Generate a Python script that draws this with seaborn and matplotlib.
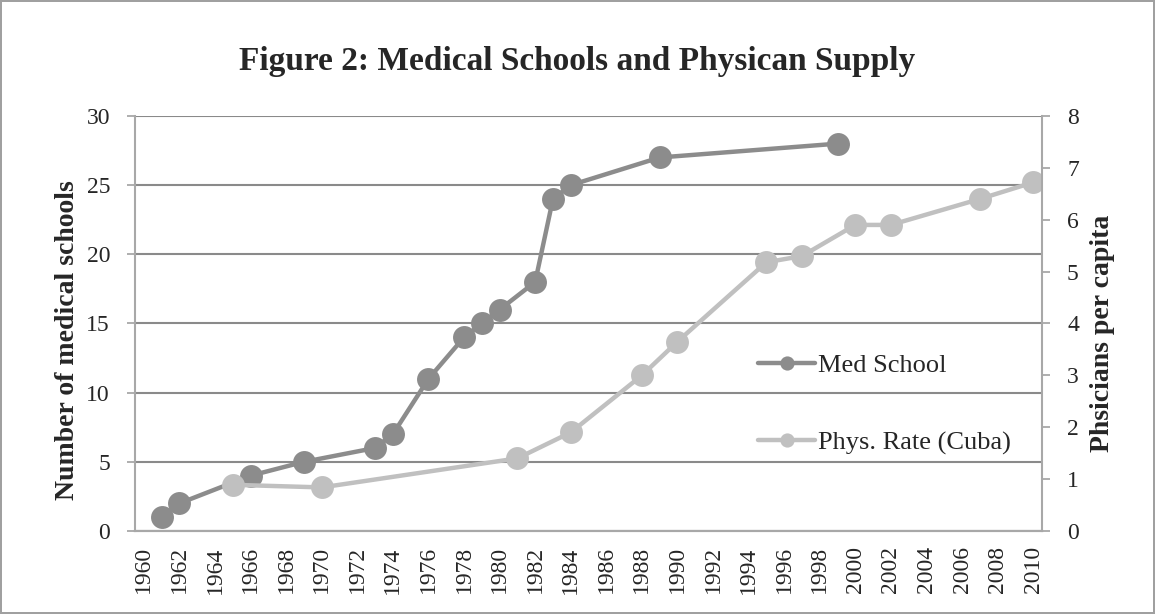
import numpy as np
import pandas as pd
import matplotlib
matplotlib.use('Agg')
import matplotlib.pyplot as plt
import seaborn as sns
from matplotlib.ticker import FixedLocator

# values
med_years = [1961, 1962, 1966, 1969, 1973, 1974, 1976, 1978, 1979, 1980, 1982, 1983, 1984, 1989, 1999]
med_schools = [1, 2, 4, 5, 6, 7, 11, 14, 15, 16, 18, 24, 25, 27, 28]

phys_years = [1965, 1970, 1981, 1984, 1988, 1990, 1995, 1997, 2000, 2002, 2007, 2010]
phys_rate = [0.89, 0.84, 1.40, 1.90, 3.00, 3.65, 5.18, 5.30, 5.90, 5.90, 6.40, 6.72]

year_labels = list(range(1960, 2011, 2))

med = pd.DataFrame({'year': med_years, 'schools': med_schools})
phys = pd.DataFrame({'year': phys_years, 'rate': phys_rate})

sns.set_style('white')
plt.rcParams['font.family'] = ['Liberation Serif', 'DejaVu Serif']

dark = '#8c8c8c'
light = '#c0c0c0'
grid_c = '#8a8a8a'
axis_c = '#a8a8a8'

fig = plt.figure(figsize=(11.55, 6.14), dpi=100)
fig.patch.set_edgecolor('#a0a0a0')
fig.patch.set_linewidth(1.5)
ax = fig.add_axes([0.1169, 0.1352, 0.7853, 0.6759])
ax2 = ax.twinx()

sns.lineplot(data=med, x='year', y='schools', ax=ax, color=dark, linewidth=3.2,
             marker='o', markersize=16.5, markeredgewidth=0, label='Med School', legend=False)
sns.lineplot(data=phys, x='year', y='rate', ax=ax2, color=light, linewidth=3.2,
             marker='o', markersize=16.5, markeredgewidth=0, label='Phys. Rate (Cuba)', legend=False)

ax.set_xlim(1959.5, 2010.5)
ax.set_ylim(0, 30)
ax2.set_ylim(0, 8)
ax.set_yticks(range(0, 31, 5))
ax2.set_yticks(range(0, 9))

ax.set_xticks(year_labels)
ax.set_xticklabels([str(y) for y in year_labels], rotation=90)
ax.xaxis.set_minor_locator(FixedLocator(np.arange(1959.5, 2011, 1)))
ax.tick_params(axis='x', which='major', length=0, pad=11, labelsize=17)
ax.tick_params(axis='x', which='minor', direction='out', length=5, width=1.3, color=axis_c)
ax.tick_params(axis='y', direction='out', length=6, width=1.3, color=axis_c, pad=12, labelsize=17, left=True)
ax2.tick_params(axis='y', direction='out', length=6, width=1.3, color=axis_c, pad=12, labelsize=17, right=True)

ax.grid(axis='y', color=grid_c, linewidth=1.5)
ax.grid(axis='x', visible=False)
ax2.grid(False)
ax.set_axisbelow(True)

for a in (ax, ax2):
    a.spines['top'].set_visible(False)
    for s in ('left', 'right', 'bottom'):
        a.spines[s].set_color(axis_c)
        a.spines[s].set_linewidth(1.5)
ax.spines['right'].set_visible(False)
ax2.spines['left'].set_visible(False)

ax.set_xlabel('')
ax.set_ylabel('Number of medical schools', fontsize=20, fontweight='bold')
ax2.set_ylabel('Phsicians per capita', fontsize=20, fontweight='bold')
ax.yaxis.set_label_coords(-0.061, 0.46)
ax2.yaxis.set_label_coords(1.053, 0.477)

h1, l1 = ax.get_legend_handles_labels()
h2, l2 = ax2.get_legend_handles_labels()
ax2.legend(h1 + h2, l1 + l2, loc='center left', bbox_to_anchor=(0.687, 0.305),
           frameon=False, fontsize=19, handlelength=2.15, handletextpad=0.1,
           labelspacing=2.05, borderpad=0, borderaxespad=0, markerscale=0.62)

fig.text(0.5, 0.9, 'Figure 2: Medical Schools and Physican Supply',
         ha='center', va='center', fontsize=24, fontweight='bold')

fig.savefig('out.png', dpi=100)
